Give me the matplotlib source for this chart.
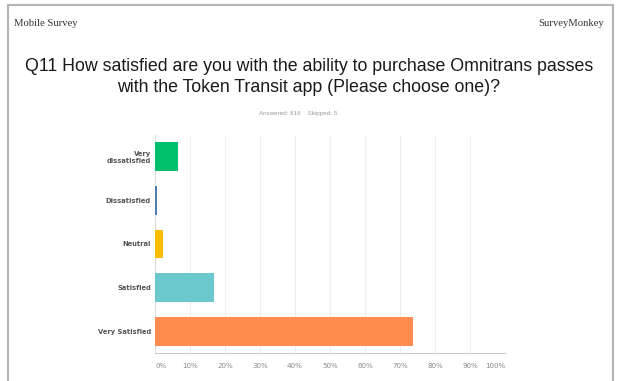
import matplotlib
matplotlib.use("Agg")
import matplotlib.pyplot as plt
from matplotlib.patches import Rectangle

categories = ["Very\ndissatisfied", "Dissatisfied", "Neutral", "Satisfied", "Very Satisfied"]
percentages = [6.7, 0.5, 2.4, 16.8, 73.6]
bar_colors = ["#00BF6F", "#507CB6", "#F9BE00", "#6BC8CD", "#FF8B4F"]
x_ticks = [0, 10, 20, 30, 40, 50, 60, 70, 80, 90, 100]
x_tick_labels = [f"{t}%" for t in x_ticks]

fig = plt.figure(figsize=(6.18, 3.81), dpi=100)
fig.patch.set_facecolor("white")

# page frame (screenshot of a report page)
fig.add_artist(Rectangle((8 / 618, -0.1), 605 / 618, 1.1 - 5 / 381,
                         transform=fig.transFigure, fill=False,
                         edgecolor="#b4b4b4", linewidth=1.5))

fig.text(14 / 618, 1 - 24 / 381, "Mobile Survey", family="Liberation Serif",
         fontsize=7.7, color="#333333", ha="left", va="center")
fig.text(604 / 618, 1 - 24 / 381, "SurveyMonkey", family="Liberation Serif",
         fontsize=7.7, color="#333333", ha="right", va="center")
fig.text(0.5, 1 - 77 / 381,
         "Q11 How satisfied are you with the ability to purchase Omnitrans passes\n"
         "with the Token Transit app (Please choose one)?",
         family="Liberation Sans", fontsize=12.8, color="#1a1a1a",
         ha="center", va="center", linespacing=1.33)
fig.text(298 / 618, 1 - 113 / 381, "Answered: 816    Skipped: 5",
         family="Liberation Sans", fontsize=4.5, color="#9a9a9a",
         ha="center", va="center")

ax = fig.add_axes([155 / 618, 1 - 353 / 381, 350 / 618, 218 / 381])
y = list(range(len(categories)))
ax.barh(y, percentages, height=0.66, color=bar_colors, zorder=3)

ax.set_xlim(0, 100)
ax.set_ylim(len(categories) - 0.5, -0.5)
ax.set_xticks(x_ticks)
ax.set_xticklabels(x_tick_labels, family="DejaVu Sans", fontsize=5.1, color="#8a8a8a")
tl = ax.get_xticklabels()
tl[0].set_ha("left")
tl[-1].set_ha("right")
ax.set_yticks(y)
ax.set_yticklabels(categories, family="DejaVu Sans", fontsize=4.9,
                   color="#555555", fontweight="bold", linespacing=1.1)
ax.tick_params(axis="both", length=0, pad=3)
ax.tick_params(axis="x", pad=7)

ax.grid(axis="x", color="#eeeeee", linewidth=0.8, zorder=0)
for side in ["top", "right"]:
    ax.spines[side].set_visible(False)
ax.spines["left"].set_color("#dddddd")
ax.spines["left"].set_linewidth(0.8)
ax.spines["bottom"].set_color("#cccccc")
ax.spines["bottom"].set_linestyle((0, (1, 1)))
ax.spines["bottom"].set_linewidth(0.8)

fig.savefig("out.png", dpi=100)
